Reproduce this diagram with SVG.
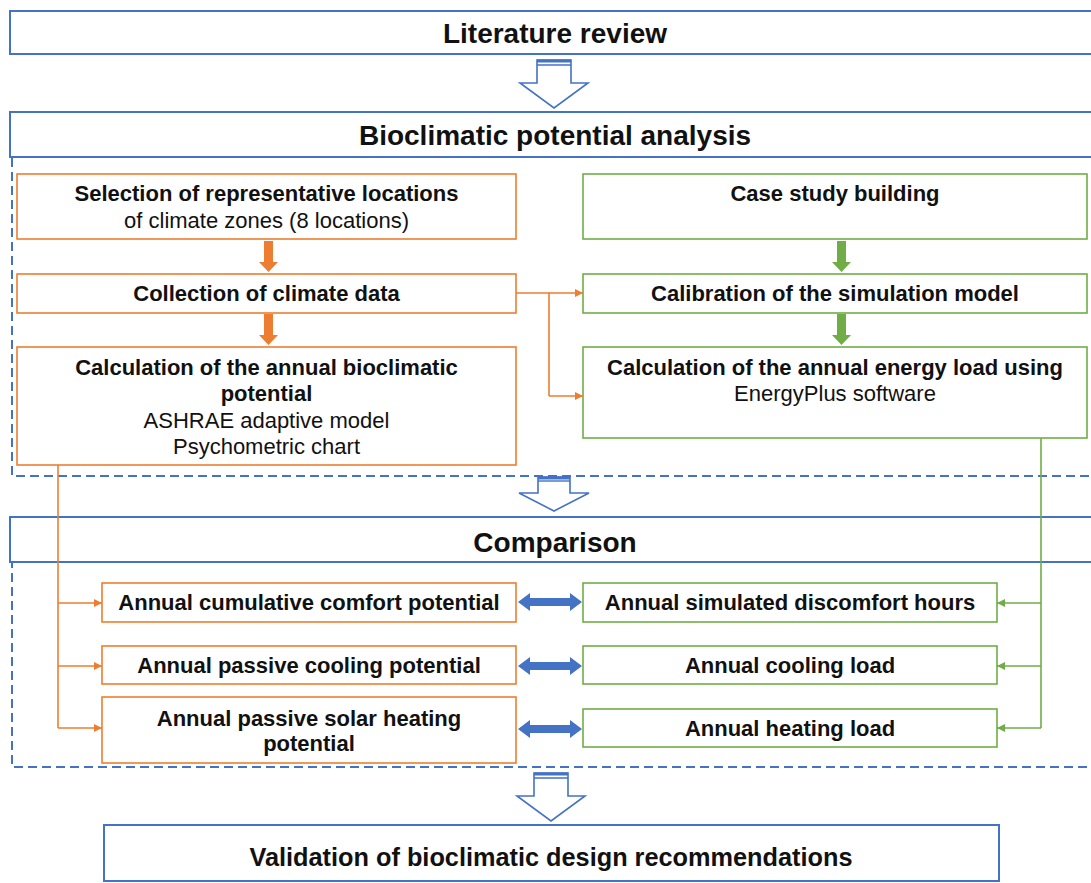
<svg xmlns="http://www.w3.org/2000/svg" width="1091" height="883" viewBox="0 0 1091 883">
<style>
.bg{fill:#ffffff}
.title{fill:#fff;stroke:#4472C4;stroke-width:2}
.region{fill:none;stroke:#4472C4;stroke-width:2;stroke-dasharray:9 5}
.ob{fill:#fff;stroke:#ED7D31;stroke-width:1.6}
.gb{fill:#fff;stroke:#70AD47;stroke-width:1.6}
.hollow{fill:#fff;stroke:#4472C4;stroke-width:1.6}
.cap{stroke:#4472C4;stroke-width:1.4}
text{font-family:"Liberation Sans",Arial,sans-serif;fill:#111;text-anchor:middle}
.t24{font-size:28px;font-weight:bold}
.b18{font-size:22px;font-weight:bold}
.r18{font-size:22px}
.oc{fill:none;stroke:#ED7D31;stroke-width:1.6}
.gc{fill:none;stroke:#70AD47;stroke-width:1.6}
</style>
<defs>
<marker id="ah-o" viewBox="0 0 10 10" refX="10" refY="5" markerWidth="8" markerHeight="8" orient="auto" markerUnits="userSpaceOnUse"><path d="M0,0 L10,5 L0,10 z" fill="#ED7D31"/></marker>
<marker id="ah-g" viewBox="0 0 10 10" refX="10" refY="5" markerWidth="8" markerHeight="8" orient="auto" markerUnits="userSpaceOnUse"><path d="M0,0 L10,5 L0,10 z" fill="#70AD47"/></marker>
</defs>
<rect class="bg" x="0" y="0" width="1091" height="883"/>

<!-- dashed regions -->
<rect class="region" x="12" y="157" width="1100" height="319"/>
<rect class="region" x="12" y="562" width="1100" height="205"/>

<g id="literature">
<rect class="title" x="10" y="11" width="1100" height="43"/>
<text class="t24" x="555" y="43">Literature review</text>
</g>

<g id="bioclimatic">
<rect class="title" x="10" y="112" width="1100" height="45"/>
<text class="t24" x="555" y="145">Bioclimatic potential analysis</text>
</g>

<g id="selection">
<rect class="ob" x="17" y="174" width="499" height="65"/>
<text class="b18" x="266.5" y="201">Selection of representative locations</text>
<text class="r18" x="266.5" y="228">of climate zones (8 locations)</text>
</g>

<g id="collection">
<rect class="ob" x="17" y="274" width="499" height="39"/>
<text class="b18" x="266.5" y="301">Collection of climate data</text>
</g>

<g id="calc-bio">
<rect class="ob" x="17" y="347" width="499" height="118"/>
<text class="b18" x="266.5" y="375">Calculation of the annual bioclimatic</text>
<text class="b18" x="266.5" y="401">potential</text>
<text class="r18" x="266.5" y="428">ASHRAE adaptive model</text>
<text class="r18" x="266.5" y="454">Psychometric chart</text>
</g>

<g id="case-study">
<rect class="gb" x="583" y="174" width="504" height="65"/>
<text class="b18" x="835" y="201">Case study building</text>
</g>

<g id="calibration">
<rect class="gb" x="583" y="274" width="504" height="39"/>
<text class="b18" x="835" y="301">Calibration of the simulation model</text>
</g>

<g id="calc-energy">
<rect class="gb" x="583" y="347" width="504" height="91"/>
<text class="b18" x="835" y="375">Calculation of the annual energy load using</text>
<text class="r18" x="835" y="401">EnergyPlus software</text>
</g>

<g id="comparison">
<rect class="title" x="10" y="517" width="1100" height="45"/>
<text class="t24" x="555" y="552">Comparison</text>
</g>

<g id="comfort-potential">
<rect class="ob" x="102" y="583" width="414" height="39"/>
<text class="b18" x="309" y="610">Annual cumulative comfort potential</text>
</g>
<g id="cooling-potential">
<rect class="ob" x="102" y="646" width="414" height="38"/>
<text class="b18" x="309" y="673">Annual passive cooling potential</text>
</g>
<g id="heating-potential">
<rect class="ob" x="102" y="697" width="414" height="66"/>
<text class="b18" x="309" y="726">Annual passive solar heating</text>
<text class="b18" x="309" y="751">potential</text>
</g>

<g id="discomfort-hours">
<rect class="gb" x="583" y="583" width="414" height="39"/>
<text class="b18" x="790" y="610">Annual simulated discomfort hours</text>
</g>
<g id="cooling-load">
<rect class="gb" x="583" y="646" width="414" height="38"/>
<text class="b18" x="790" y="673">Annual cooling load</text>
</g>
<g id="heating-load">
<rect class="gb" x="583" y="709" width="414" height="38"/>
<text class="b18" x="790" y="736">Annual heating load</text>
</g>

<g id="validation">
<rect class="title" x="104" y="825" width="895" height="56"/>
<text class="t24" x="551" y="866" style="font-size:26px" textLength="603" lengthAdjust="spacingAndGlyphs">Validation of bioclimatic design recommendations</text>
</g>

<g id="connectors">
<!-- hollow block arrows -->
<polygon class="hollow" points="537,60 571,60 571,83 588,83 554,108 520,83 537,83"/>
<line class="cap" x1="537" y1="65" x2="571" y2="65"/>
<line x1="537" y1="61" x2="571" y2="61" stroke="#4472C4" stroke-width="3"/>

<polygon class="hollow" points="538,477 570,477 570,493 589,493 554,511 519,493 538,493"/>
<line class="cap" x1="538" y1="481" x2="570" y2="481"/>
<line x1="538" y1="478" x2="570" y2="478" stroke="#4472C4" stroke-width="3"/>

<polygon class="hollow" points="534,773 568,773 568,796 585,796 551,821 517,796 534,796"/>
<line class="cap" x1="534" y1="778" x2="568" y2="778"/>
<line x1="534" y1="774" x2="568" y2="774" stroke="#4472C4" stroke-width="3"/>

<!-- orange solid block arrows -->
<polygon fill="#ED7D31" points="264,241 273,241 273,262 278,262 268.5,272 259,262 264,262"/>
<polygon fill="#ED7D31" points="264,314 273,314 273,335 278,335 268.5,345 259,335 264,335"/>
<!-- green solid block arrows -->
<polygon fill="#70AD47" points="837,241 846,241 846,262 851,262 841.5,272 832,262 837,262"/>
<polygon fill="#70AD47" points="837,314 846,314 846,335 851,335 841.5,345 832,335 837,335"/>

<!-- orange connector from collection to right column -->
<path class="oc" d="M516,293 H549 V396" />
<path class="oc" d="M549,293 H583" marker-end="url(#ah-o)"/>
<path class="oc" d="M549,396 H583" marker-end="url(#ah-o)"/>

<!-- orange connector to comparison potentials -->
<path class="oc" d="M58,465 V728"/>
<path class="oc" d="M58,603 H102" marker-end="url(#ah-o)"/>
<path class="oc" d="M58,666 H102" marker-end="url(#ah-o)"/>
<path class="oc" d="M58,728 H102" marker-end="url(#ah-o)"/>

<!-- green connector to simulated results -->
<path class="gc" d="M1041,438 V728"/>
<path class="gc" d="M1041,603 H997" marker-end="url(#ah-g)"/>
<path class="gc" d="M1041,666 H997" marker-end="url(#ah-g)"/>
<path class="gc" d="M1041,728 H997" marker-end="url(#ah-g)"/>

<!-- blue double arrows -->
<polygon fill="#4472C4" points="518,602 530,593 530,598 570,598 570,593 582,602 570,611 570,606 530,606 530,611"/>
<polygon fill="#4472C4" points="518,666 530,657 530,662 570,662 570,657 582,666 570,675 570,670 530,670 530,675"/>
<polygon fill="#4472C4" points="518,729 530,720 530,725 570,725 570,720 582,729 570,738 570,733 530,733 530,738"/>
</g>
</svg>
